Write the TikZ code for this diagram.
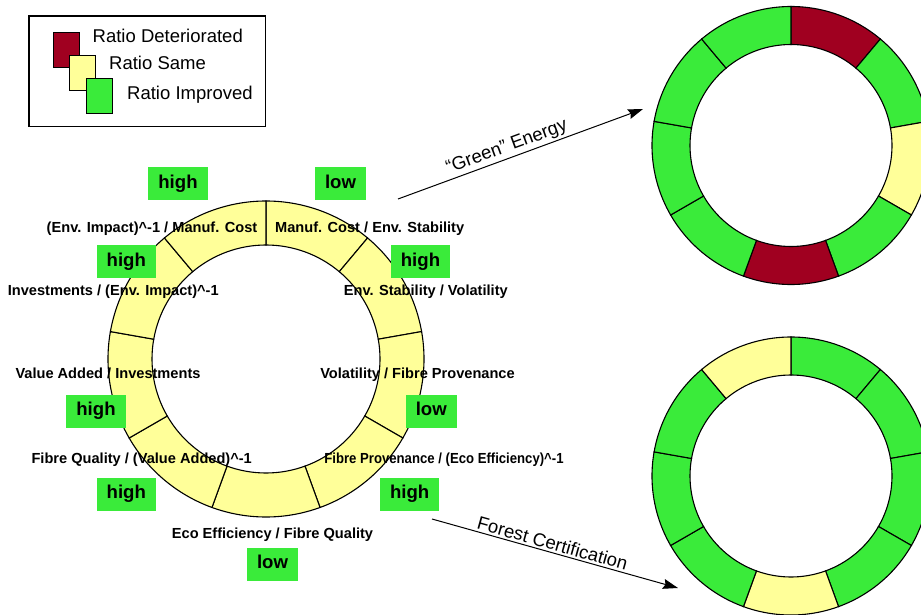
\documentclass[tikz,border=0pt]{standalone}
\usepackage{fontspec}
\usepackage{graphicx}
\setmainfont{Liberation Sans}
\usetikzlibrary{arrows.meta,positioning}
\definecolor{ratiored}{RGB}{160,0,32}
\definecolor{ratioyellow}{RGB}{255,255,153}
\definecolor{ratiogreen}{RGB}{58,235,58}

\begin{document}
\begin{tikzpicture}[x=1pt, y=1pt,
  seg/.style={draw=black, line width=1.1pt},
  ratio/.style={font=\bfseries\fontsize{14.6}{16}\selectfont, anchor=base, inner sep=0pt},
  tag/.style={fill=ratiogreen, font=\bfseries\fontsize{18.6}{20}\selectfont, minimum height=33pt, inner xsep=10pt, inner ysep=0pt, text height=13.5pt, text depth=4pt},
  legbox/.style={draw=black, line width=0.9pt, minimum width=26pt, minimum height=35pt, inner sep=0pt},
  legtext/.style={font=\fontsize{18.5}{20}\selectfont, anchor=base west, inner sep=0pt},
  flow/.style={-{Stealth[length=15pt, width=10pt, inset=2pt]}, line width=1pt},
  flowlbl/.style={font=\fontsize{18.5}{20}\selectfont, sloped, above=1pt, inner sep=1pt},
]
\useasboundingbox (0,0) rectangle (921,614);

\draw[line width=1.2pt] (29,598) rectangle (265.7,487.3);
\node[legbox, fill=ratiored] (keyred) at (66,564.5) {};
\node[legbox, fill=ratioyellow] (keyyellow) at (82.5,541) {};
\node[legbox, fill=ratiogreen] (keygreen) at (99.5,518.5) {};
\node[legtext] (txtred) at (92.5,571.3) {Ratio Deteriorated};
\node[legtext] (txtyellow) at (109,544.7) {Ratio Same};
\node[legtext] (txtgreen) at (127,514) {Ratio Improved};

\begin{scope}[shift={(266,255)}]
\foreach \col [count=\k from 0] in {ratioyellow,ratioyellow,ratioyellow,ratioyellow,ratioyellow,ratioyellow,ratioyellow,ratioyellow,ratioyellow}{
  \pgfmathsetmacro\a{90-40*\k}\pgfmathsetmacro\b{\a-40}
  \filldraw[seg, fill=\col] (\a:158pt) arc[start angle=\a, end angle=\b, radius=158pt] -- (\b:114pt) arc[start angle=\b, end angle=\a, radius=114pt] -- cycle;
}
\end{scope}

\begin{scope}[shift={(791,468.5)}]
\foreach \col [count=\k from 0] in {ratiored,ratiogreen,ratioyellow,ratiogreen,ratiored,ratiogreen,ratiogreen,ratiogreen,ratiogreen}{
  \pgfmathsetmacro\a{90-40*\k}\pgfmathsetmacro\b{\a-40}
  \filldraw[seg, fill=\col] (\a:139pt) arc[start angle=\a, end angle=\b, radius=139pt] -- (\b:101pt) arc[start angle=\b, end angle=\a, radius=101pt] -- cycle;
}
\end{scope}

\begin{scope}[shift={(791,138)}]
\foreach \col [count=\k from 0] in {ratiogreen,ratiogreen,ratiogreen,ratiogreen,ratioyellow,ratiogreen,ratiogreen,ratiogreen,ratioyellow}{
  \pgfmathsetmacro\a{90-40*\k}\pgfmathsetmacro\b{\a-40}
  \filldraw[seg, fill=\col] (\a:139pt) arc[start angle=\a, end angle=\b, radius=139pt] -- (\b:101pt) arc[start angle=\b, end angle=\a, radius=101pt] -- cycle;
}
\end{scope}

\node[ratio] (impcost) at (152,381.3) {(Env. Impact)\textasciicircum-1 / Manuf. Cost};
\node[ratio] (coststab) at (369.7,381.3) {Manuf. Cost / Env. Stability};
\node[ratio] (invimp) at (113.3,318) {Investments / (Env. Impact)\textasciicircum-1};
\node[ratio] (stabvol) at (425.8,318) {Env. Stability / Volatility};
\node[ratio] (valinv) at (108,235.7) {Value Added / Investments};
\node[ratio] (volprov) at (417.5,235.7) {Volatility / Fibre Provenance};
\node[ratio] (qualval) at (141.7,150.7) {Fibre Quality / (Value Added)\textasciicircum-1};
\node[ratio] (proveco) at (444,150.7) {\scalebox{0.9}[1]{Fibre Provenance / (Eco Efficiency)\textasciicircum-1}};
\node[ratio] (ecoqual) at (272.5,75.7) {Eco Efficiency / Fibre Quality};

\node[tag] (impcost-v) at (178,430) {high};
\node[tag] (coststab-v) at (340.5,430) {low};
\node[tag] (invimp-v) at (126.3,352) {high};
\node[tag] (stabvol-v) at (420.5,352) {high};
\node[tag] (valinv-v) at (96,203) {high};
\node[tag] (volprov-v) at (431.3,203) {low};
\node[tag] (qualval-v) at (126.3,120) {high};
\node[tag] (proveco-v) at (409.7,120) {high};
\node[tag] (ecoqual-v) at (272.5,50) {low};

\coordinate (energy-from) at (398,415);
\coordinate (energy-to) at (643,505);
\coordinate (forest-from) at (432,95);
\coordinate (forest-to) at (678,26);
\draw[flow] (energy-from) -- node[flowlbl, pos=0.46] {“Green” Energy} (energy-to);
\draw[flow] (forest-from) -- node[flowlbl, pos=0.48] {Forest Certification} (forest-to);
\end{tikzpicture}
\end{document}
